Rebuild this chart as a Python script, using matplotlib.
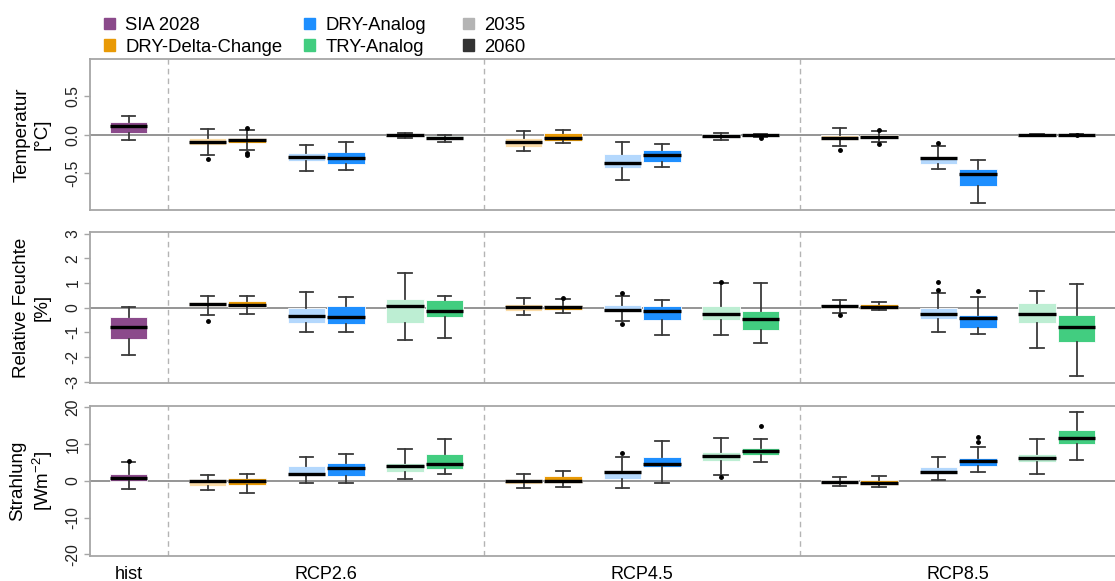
import numpy as np
import matplotlib.pyplot as plt
from matplotlib.patches import Patch

plt.rcParams['font.family'] = ['Liberation Sans', 'DejaVu Sans']
plt.rcParams['mathtext.fontset'] = 'custom'
plt.rcParams['mathtext.rm'] = 'Liberation Sans'
plt.rcParams['mathtext.it'] = 'Liberation Sans:italic'
plt.rcParams['axes.unicode_minus'] = False

scenarios = ["RCP2.6", "RCP4.5", "RCP8.5"]
legend_methods = ["SIA 2028", "DRY-Delta-Change", "DRY-Analog", "TRY-Analog"]
legend_periods = ["2035", "2060"]

# box stats: [whislo, q1, median, q3, whishi]
# order inside a scenario: DDC 2035, DDC 2060, DRY-A 2035, DRY-A 2060, TRY-A 2035, TRY-A 2060
temp_hist = [-0.07, 0.026, 0.113, 0.16, 0.24]
temp_hist_out = []
temp_rcp26 = [[-0.26, -0.13, -0.095, -0.047, 0.07],
              [-0.20, -0.104, -0.07, -0.043, 0.057],
              [-0.47, -0.35, -0.295, -0.243, -0.14],
              [-0.46, -0.38, -0.30, -0.226, -0.095],
              [-0.047, -0.02, -0.008, 0.005, 0.018],
              [-0.10, -0.06, -0.043, -0.017, -0.004]]
temp_rcp26_out = [[-0.32], [0.08, -0.245, -0.265], [], [], [], []]
temp_rcp45 = [[-0.217, -0.16, -0.10, -0.048, 0.052],
              [-0.104, -0.083, -0.04, 0.017, 0.065],
              [-0.59, -0.435, -0.365, -0.257, -0.096],
              [-0.417, -0.352, -0.265, -0.204, -0.126],
              [-0.065, -0.035, -0.017, 0.009, 0.017],
              [-0.03, -0.017, -0.004, 0.009, 0.013]]
temp_rcp45_out = [[], [], [], [], [], [-0.043]]
temp_rcp85 = [[-0.152, -0.065, -0.043, -0.004, 0.091],
              [-0.096, -0.048, -0.026, 0.0, 0.043],
              [-0.443, -0.387, -0.309, -0.29, -0.143],
              [-0.89, -0.67, -0.509, -0.452, -0.33],
              [-0.017, -0.013, -0.009, 0.004, 0.013],
              [-0.013, -0.009, -0.004, 0.004, 0.009]]
temp_rcp85_out = [[-0.204], [0.065, -0.117], [-0.104], [], [], [-0.004]]

rh_hist = [-1.9, -1.27, -0.77, -0.39, 0.01]
rh_hist_out = []
rh_rcp26 = [[-0.31, 0.05, 0.135, 0.24, 0.47],
            [-0.27, 0.03, 0.12, 0.26, 0.47],
            [-0.99, -0.64, -0.34, -0.03, 0.62],
            [-1.0, -0.68, -0.39, 0.05, 0.41],
            [-1.3, -0.64, 0.05, 0.34, 1.42],
            [-1.23, -0.39, -0.135, 0.3, 0.46]]
rh_rcp26_out = [[-0.54], [], [], [], [], []]
rh_rcp45 = [[-0.28, -0.15, 0.04, 0.15, 0.39],
            [-0.22, -0.08, 0.04, 0.095, 0.35],
            [-0.53, -0.15, -0.08, 0.11, 0.49],
            [-1.12, -0.5, -0.15, 0.05, 0.31],
            [-1.1, -0.5, -0.26, 0.08, 0.98],
            [-1.45, -0.91, -0.46, -0.135, 0.98]]
rh_rcp45_out = [[], [0.39], [0.61, -0.66], [], [1.03], []]
rh_rcp85 = [[-0.22, -0.03, 0.07, 0.12, 0.3],
            [-0.095, -0.04, 0.04, 0.135, 0.22],
            [-0.99, -0.45, -0.26, -0.03, 0.6],
            [-1.05, -0.81, -0.42, -0.31, 0.41],
            [-1.62, -0.61, -0.27, 0.2, 0.66],
            [-2.79, -1.41, -0.8, -0.3, 0.95]]
rh_rcp85_out = [[-0.3], [], [0.7, 1.04], [0.68], [], []]

sw_hist = [-2.1, 0.0, 0.82, 1.8, 5.1]
sw_hist_out = [5.3]
sw_rcp26 = [[-2.5, -1.36, 0.1, 0.55, 1.7],
            [-3.2, -1.2, -0.1, 0.9, 1.9],
            [-0.7, 1.36, 2.0, 4.1, 6.6],
            [-0.6, 1.36, 3.5, 5.0, 7.4],
            [0.55, 2.3, 4.1, 5.0, 8.7],
            [1.9, 3.2, 4.5, 7.45, 11.5]]
sw_rcp26_out = [[], [], [], [], [], []]
sw_rcp45 = [[-2.0, -0.8, 0.1, 0.45, 2.0],
            [-1.55, -0.45, 0.0, 1.36, 2.7],
            [-2.0, 0.64, 2.3, 3.1, 6.6],
            [-0.55, 3.7, 4.5, 6.6, 10.9],
            [1.5, 5.3, 6.7, 7.8, 11.7],
            [5.2, 7.1, 8.1, 8.9, 11.5]]
sw_rcp45_out = [[], [], [7.7], [], [1.1], [14.8]]
sw_rcp85 = [[-1.36, -0.8, -0.27, 0.27, 1.0],
            [-1.7, -1.0, -0.45, 0.18, 1.2],
            [0.18, 1.8, 2.45, 3.7, 6.6],
            [2.4, 4.1, 5.4, 6.2, 9.2],
            [1.9, 5.2, 6.1, 7.4, 11.3],
            [5.6, 9.9, 11.8, 13.9, 18.8]]
sw_rcp85_out = [[], [], [], [10.7, 11.9], [], []]

# colours
c_sia = '#8b4a8b'
box_colors = ['#fbdca8', '#e99a06', '#b4d8fd', '#1e8fff', '#bdeed3', '#42cd80']
c_2035 = '#b4b4b4'
c_2060 = '#333333'

panels = [
    dict(label="Temperatur\n[°C]", hist=temp_hist, hist_out=temp_hist_out,
         data=[temp_rcp26, temp_rcp45, temp_rcp85],
         out=[temp_rcp26_out, temp_rcp45_out, temp_rcp85_out],
         ylim=(-0.98, 0.98), ticks=[-0.5, 0.0, 0.5], ticklabels=["-0.5", "0.0", "0.5"]),
    dict(label="Relative Feuchte\n[%]", hist=rh_hist, hist_out=rh_hist_out,
         data=[rh_rcp26, rh_rcp45, rh_rcp85],
         out=[rh_rcp26_out, rh_rcp45_out, rh_rcp85_out],
         ylim=(-3.05, 3.05), ticks=[-3, -2, -1, 0, 1, 2, 3],
         ticklabels=["-3", "-2", "-1", "0", "1", "2", "3"]),
    dict(label="Strahlung\n[Wm$^{-2}$]", hist=sw_hist, hist_out=sw_hist_out,
         data=[sw_rcp26, sw_rcp45, sw_rcp85],
         out=[sw_rcp26_out, sw_rcp45_out, sw_rcp85_out],
         ylim=(-20.5, 20.45), ticks=[-20, -10, 0, 10, 20],
         ticklabels=["-20", "-10", "0", "10", "20"]),
]

W, H = 1115, 581
fig = plt.figure(figsize=(W / 100, H / 100), dpi=100)

panel_tops = [59.3, 232.3, 405.7]
panel_h = 150.6
left_px = 90.3

offsets = [1, 2, 3.5, 4.5, 6, 7]
spine_col = '#a6a6a6'


def to_stats(row, out):
    return dict(whislo=row[0], q1=row[1], med=row[2], q3=row[3], whishi=row[4], fliers=out)


for k, p in enumerate(panels):
    ax = fig.add_axes([left_px / W, 1 - (panel_tops[k] + panel_h) / H,
                       1 - left_px / W, panel_h / H])
    stats = [to_stats(p['hist'], p['hist_out'])]
    positions = [1]
    colors = [c_sia]
    for g in range(3):
        start = 2 + 8 * g
        for i in range(6):
            stats.append(to_stats(p['data'][g][i], p['out'][g][i]))
            positions.append(start + offsets[i])
            colors.append(box_colors[i])

    bp = ax.bxp(stats, positions=positions, widths=0.95, capwidths=0.34,
                patch_artist=True, showfliers=True,
                boxprops=dict(edgecolor='white', linewidth=0.6),
                medianprops=dict(color='black', linewidth=2.4),
                whiskerprops=dict(color='#3a3a3a', linewidth=1.3),
                capprops=dict(color='#3a3a3a', linewidth=1.3),
                flierprops=dict(marker='o', markerfacecolor='black', markeredgecolor='black',
                                markersize=2.5, linestyle='none'))
    for box, col in zip(bp['boxes'], colors):
        box.set_facecolor(col)

    ax.axhline(0, color='#8c8c8c', linewidth=1.3, zorder=1)
    for xv in [2, 10, 18]:
        ax.axvline(xv, color='#b4b4b4', linewidth=1.0, linestyle=(0, (4, 3)), zorder=0.5)

    ax.set_xlim(0.03, 25.97)
    ax.set_ylim(*p['ylim'])
    ax.set_yticks(p['ticks'])
    ax.set_yticklabels(p['ticklabels'])
    ax.tick_params(axis='y', length=4, width=1, color=spine_col, labelsize=11.3,
                   pad=3, labelrotation=90, labelcolor='#222222')
    for lbl in ax.get_yticklabels():
        lbl.set_va('center')

    if k == 2:
        ax.set_xticks([1, 6, 14, 22])
        ax.set_xticklabels(["hist"] + scenarios)
        ax.tick_params(axis='x', length=0, labelsize=13, pad=7)
    else:
        ax.set_xticks([])

    for side in ['left', 'top', 'bottom']:
        ax.spines[side].set_color(spine_col)
        ax.spines[side].set_linewidth(1.3)
    ax.spines['right'].set_visible(False)

    fig.text(32 / W, 1 - (panel_tops[k] + panel_h / 2) / H, p['label'], rotation=90,
             ha='center', va='center', multialignment='center', fontsize=13.5,
             linespacing=1.25)

# legend in three columns
legend_cols = [
    ([c_sia, box_colors[1]], legend_methods[0:2], 104),
    ([box_colors[3], box_colors[5]], legend_methods[2:4], 304),
    ([c_2035, c_2060], legend_periods, 463),
]
for cols, labels, xpx in legend_cols:
    fig.legend(handles=[Patch(color=c) for c in cols], labels=labels,
               loc='upper left', bbox_to_anchor=(xpx / W, 1 - 17 / H),
               frameon=False, fontsize=13.3, handlelength=0.6, handleheight=0.6,
               handletextpad=0.55, labelspacing=0.25, borderpad=0, borderaxespad=0)

fig.savefig('out.png', dpi=100)
